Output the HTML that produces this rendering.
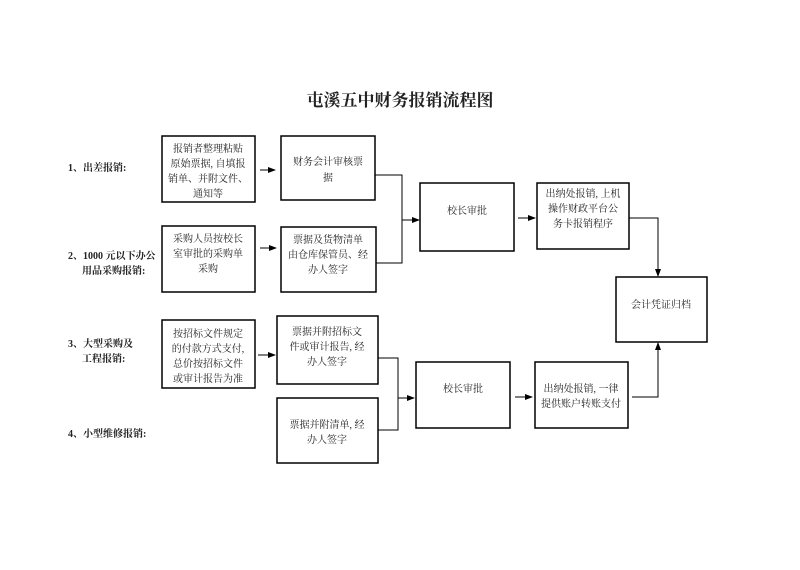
<!DOCTYPE html>
<html><head><meta charset="utf-8"><style>
body{margin:0;background:#fff;}
svg text{font-family:"Liberation Serif","Noto Serif CJK SC",serif;font-size:10px;fill:#222;}
</style></head><body>
<svg width="800" height="565" viewBox="0 0 800 565" xmlns="http://www.w3.org/2000/svg">
<defs><marker id="a" markerWidth="8" markerHeight="6" refX="7" refY="3" orient="auto" markerUnits="userSpaceOnUse"><path d="M0,0 L8,3 L0,6z" fill="#000"/></marker></defs>
<text x="400" y="106" text-anchor="middle" style="font-size:17px;font-weight:bold">屯溪五中财务报销流程图</text>
<g style="font-weight:bold">
<text x="68" y="171">1、出差报销:</text>
<text x="68" y="259">2、1000 元以下办公</text>
<text x="82" y="274">用品采购报销:</text>
<text x="68" y="347">3、大型采购及</text>
<text x="82" y="362">工程报销:</text>
<text x="68" y="437">4、小型维修报销:</text>
</g>
<g fill="none" stroke="#000" stroke-width="1.5">
<rect x="162" y="136" width="93" height="66"/>
<rect x="281" y="136" width="94" height="64"/>
<rect x="162" y="226" width="93" height="66"/>
<rect x="281" y="227" width="95" height="65"/>
<rect x="420" y="183" width="94" height="68"/>
<rect x="537" y="183" width="92" height="66"/>
<rect x="616" y="277" width="91" height="65"/>
<rect x="162" y="320" width="93" height="68"/>
<rect x="277" y="316" width="101" height="68"/>
<rect x="277" y="398" width="101" height="65"/>
<rect x="416" y="362" width="94" height="66"/>
<rect x="535" y="362" width="93" height="66"/>
</g>
<g fill="none" stroke="#000" stroke-width="1">
<path d="M260 170 H275" marker-end="url(#a)"/>
<path d="M260 248 H276" marker-end="url(#a)"/>
<path d="M375 175 H402 V263 H376"/>
<path d="M402 220 H419" marker-end="url(#a)"/>
<path d="M518 218 H535" marker-end="url(#a)"/>
<path d="M629 218 H658 V276" marker-end="url(#a)"/>
<path d="M258 355 H275" marker-end="url(#a)"/>
<path d="M378 358 H398 V430 H378"/>
<path d="M398 398 H414" marker-end="url(#a)"/>
<path d="M515 397 H532" marker-end="url(#a)"/>
<path d="M632 397 H658 V343" marker-end="url(#a)"/>
</g>
<g text-anchor="middle">
<text x="208" y="152">报销者整理粘贴</text>
<text x="208" y="167">原始票据, 自填报</text>
<text x="208" y="182">销单、并附文件、</text>
<text x="208" y="197">通知等</text>
<text x="328" y="165">财务会计审核票</text>
<text x="328" y="181">据</text>
<text x="208" y="242">采购人员按校长</text>
<text x="208" y="257">室审批的采购单</text>
<text x="208" y="272">采购</text>
<text x="328" y="243">票据及货物清单</text>
<text x="328" y="258">由仓库保管员、经</text>
<text x="328" y="273">办人签字</text>
<text x="467" y="214">校长审批</text>
<text x="583" y="197">出纳处报销, 上机</text>
<text x="583" y="212">操作财政平台公</text>
<text x="583" y="227">务卡报销程序</text>
<text x="661" y="308">会计凭证归档</text>
<text x="208" y="337">按招标文件规定</text>
<text x="208" y="352">的付款方式支付,</text>
<text x="208" y="367">总价按招标文件</text>
<text x="208" y="382">或审计报告为准</text>
<text x="327" y="335">票据并附招标文</text>
<text x="327" y="350">件或审计报告, 经</text>
<text x="327" y="365">办人签字</text>
<text x="327" y="428">票据并附清单, 经</text>
<text x="327" y="443">办人签字</text>
<text x="463" y="392">校长审批</text>
<text x="581" y="392">出纳处报销, 一律</text>
<text x="581" y="407">提供账户转账支付</text>
</g>
</svg>
</body></html>
